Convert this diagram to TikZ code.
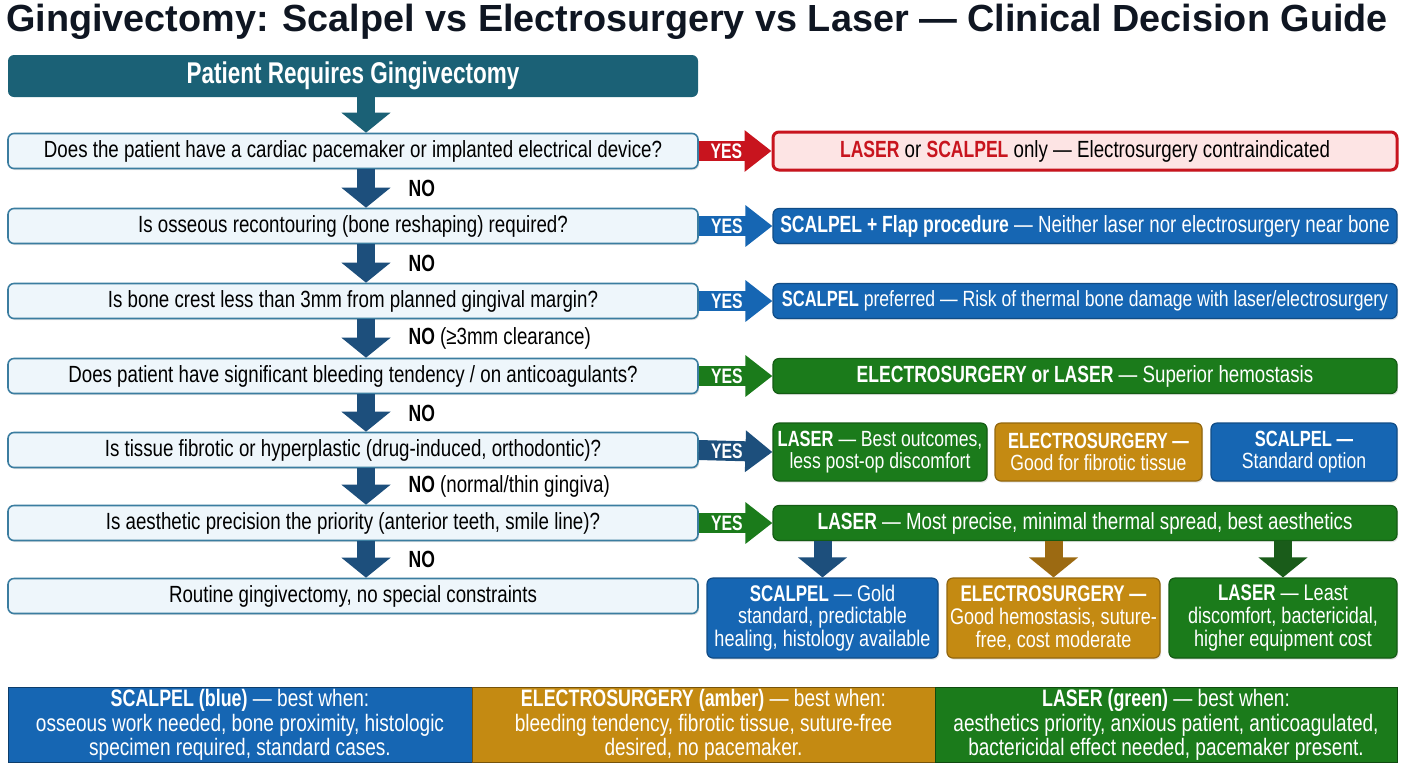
\documentclass[tikz,border=0pt]{standalone}
\usepackage{fontspec}
\setmainfont{Liberation Sans}[FakeStretch=0.8, BoldFeatures={FakeStretch=0.75}]
\newfontfamily\titlefont{Liberation Sans}
\usetikzlibrary{arrows.meta,shadows}

\definecolor{titlecol}{HTML}{0F1622}
\definecolor{startcol}{HTML}{1B6176}
\definecolor{qfill}{HTML}{EEF6FB}
\definecolor{qline}{HTML}{3B7DA0}
\definecolor{navy}{HTML}{1D4F7C}
\definecolor{bluec}{HTML}{1666B3}
\definecolor{amberc}{HTML}{C48A12}
\definecolor{greenc}{HTML}{1B7B1B}
\definecolor{redc}{HTML}{C8141E}
\definecolor{pinkc}{HTML}{FDE4E4}
\definecolor{darkamber}{HTML}{9C6A12}
\definecolor{darkgreen}{HTML}{1A5C1A}

\tikzset{
  txt/.style={font=\fontsize{11.7}{11.3}\selectfont},
  qbox/.style={txt, draw=qline, fill=qfill, line width=0.8pt, rounded corners=3pt,
    minimum width=345pt, minimum height=17.5pt, inner sep=1pt, text=black,
    drop shadow={shadow xshift=0.6pt, shadow yshift=-0.8pt, opacity=0.2}},
  rbox/.style={txt, fill=#1, draw=#1!75!black, line width=0.6pt, rounded corners=3pt,
    text=white, align=center, inner sep=1pt,
    drop shadow={shadow xshift=0.6pt, shadow yshift=-0.8pt, opacity=0.2}},
  smallbox/.style={rbox=#1, font=\fontsize{11}{11.3}\selectfont, minimum height=29pt},
  optbox/.style={rbox=#1, font=\fontsize{11.3}{11.3}\selectfont, minimum height=40pt},
  legbox/.style={fill=#1, draw=#1!60!black, line width=0.5pt, text=white,
    font=\fontsize{11.9}{10.6}\selectfont, align=center, inner sep=1pt, minimum height=37pt},
  down/.style={line width=9pt, draw=#1, -{Triangle[width=24pt,length=10pt]}},
  yes/.style={line width=10pt, draw=#1, -{Triangle[width=20pt,length=13.5pt]}},
  nolabel/.style={txt, anchor=west, xshift=13.5pt},
  yeslabel/.style={font=\fontsize{10.5}{11}\selectfont\bfseries, text=white, pos=0.38}
}

\begin{document}
\begin{tikzpicture}[x=0.5pt,y=-0.5pt]
\fill[white] (0,0) rectangle (1408,768);
\useasboundingbox (0,0) rectangle (1408,768);

\node[text=titlecol] (title) at (697,22)
  {\titlefont\bfseries\fontsize{18.9}{20}\selectfont Gingivectomy: Scalpel vs Electrosurgery vs Laser — Clinical Decision Guide};

\node[fill=startcol, rounded corners=3pt, minimum width=345pt, minimum height=21pt,
  text=white, font=\fontsize{15}{16}\selectfont\bfseries] (start) at (353,76) {Patient Requires Gingivectomy};

% questions down the left
\node[qbox] (q1) at (353,151) {Does the patient have a cardiac pacemaker or implanted electrical device?};
\node[qbox] (q2) at (353,226) {Is osseous recontouring (bone reshaping) required?};
\node[qbox] (q3) at (353,301) {Is bone crest less than 3mm from planned gingival margin?};
\node[qbox] (q4) at (353,376) {Does patient have significant bleeding tendency / on anticoagulants?};
\node[qbox] (q5) at (353,450) {Is tissue fibrotic or hyperplastic (drug-induced, orthodontic)?};
\node[qbox] (q6) at (353,523) {Is aesthetic precision the priority (anterior teeth, smile line)?};
\node[qbox] (q7) at (353,596) {Routine gingivectomy, no special constraints};

% answers on the right
\node[rbox=pinkc, draw=redc, line width=1.5pt, text=black, minimum width=312pt, minimum height=19pt] (r1) at (1085,151)
  {\textcolor{redc}{\textbf{LASER}} or \textcolor{redc}{\textbf{SCALPEL}} only — Electrosurgery contraindicated};
\node[rbox=bluec, minimum width=312pt, minimum height=17.5pt] (r2) at (1085,226)
  {\textbf{SCALPEL + Flap procedure} — Neither laser nor electrosurgery near bone};
\node[rbox=bluec, font=\fontsize{11}{11.3}\selectfont, minimum width=312pt, minimum height=17.5pt] (r3) at (1085,301)
  {\textbf{SCALPEL} preferred — Risk of thermal bone damage with laser/electrosurgery};
\node[rbox=greenc, minimum width=312pt, minimum height=17.5pt] (r4) at (1085,376)
  {\textbf{ELECTROSURGERY or LASER} — Superior hemostasis};
\node[smallbox=greenc, minimum width=107pt] (r5a) at (880,452)
  {\textbf{LASER} — Best outcomes,\\ less post-op discomfort};
\node[smallbox=amberc, minimum width=103.5pt] (r5b) at (1098.5,452)
  {\textbf{ELECTROSURGERY —}\\ Good for fibrotic tissue};
\node[smallbox=bluec, minimum width=93pt] (r5c) at (1304,452)
  {\textbf{SCALPEL —}\\ Standard option};
\node[rbox=greenc, minimum width=312pt, minimum height=17.5pt] (r6) at (1085,523)
  {\textbf{LASER} — Most precise, minimal thermal spread, best aesthetics};

\node[optbox=bluec, minimum width=115.5pt] (b1) at (822.5,618)
  {\textbf{SCALPEL} — Gold\\ standard, predictable\\ healing, histology available};
\node[optbox=amberc, minimum width=106.5pt] (b2) at (1053.5,618)
  {\textbf{ELECTROSURGERY —}\\ Good hemostasis, suture-\\ free, cost moderate};
\node[optbox=greenc, minimum width=114pt] (b3) at (1283,618)
  {\textbf{LASER} — Least\\ discomfort, bactericidal,\\ higher equipment cost};

% legend strip
\node[legbox=bluec, minimum width=232pt] (l1) at (240,725)
  {\textbf{SCALPEL (blue)} — best when:\\ osseous work needed, bone proximity, histologic\\ specimen required, standard cases.};
\node[legbox=amberc, minimum width=231.5pt] (l2) at (703.5,725)
  {\textbf{ELECTROSURGERY (amber)} — best when:\\ bleeding tendency, fibrotic tissue, suture-free\\ desired, no pacemaker.};
\node[legbox=greenc, minimum width=231pt] (l3) at (1166,725)
  {\textbf{LASER (green)} — best when:\\ aesthetics priority, anxious patient, anticoagulated,\\ bactericidal effect needed, pacemaker present.};

% NO arrows
\draw[down=startcol] ([xshift=6.5pt]start.south) -- ([xshift=6.5pt]q1.north);
\draw[down=navy] ([xshift=6.5pt]q1.south) -- ([xshift=6.5pt]q2.north)
  node[nolabel, pos=0.5] {\textbf{NO}};
\draw[down=navy] ([xshift=6.5pt]q2.south) -- ([xshift=6.5pt]q3.north)
  node[nolabel, pos=0.5] {\textbf{NO}};
\draw[down=navy] ([xshift=6.5pt]q3.south) -- ([xshift=6.5pt]q4.north)
  node[nolabel, pos=0.5] {\textbf{NO} (≥3mm clearance)};
\draw[down=navy] ([xshift=6.5pt]q4.south) -- ([xshift=6.5pt]q5.north)
  node[nolabel, pos=0.5] {\textbf{NO}};
\draw[down=navy] ([xshift=6.5pt]q5.south) -- ([xshift=6.5pt]q6.north)
  node[nolabel, pos=0.5] {\textbf{NO} (normal/thin gingiva)};
\draw[down=navy] ([xshift=6.5pt]q6.south) -- ([xshift=6.5pt]q7.north)
  node[nolabel, pos=0.5] {\textbf{NO}};

% YES arrows
\draw[yes=redc] (q1.east) -- (r1.west) node[yeslabel] {YES};
\draw[yes=bluec] (q2.east) -- (r2.west) node[yeslabel] {YES};
\draw[yes=bluec] (q3.east) -- (r3.west) node[yeslabel] {YES};
\draw[yes=greenc] (q4.east) -- (r4.west) node[yeslabel] {YES};
\draw[yes=navy] (q5.east) -- (r5a.west) node[yeslabel] {YES};
\draw[yes=greenc] (q6.east) -- (r6.west) node[yeslabel] {YES};

% from the aesthetics answer to the three options
\draw[down=navy] (b1.north |- r6.south) -- (b1.north);
\draw[down=darkamber] (b2.north |- r6.south) -- (b2.north);
\draw[down=darkgreen] (b3.north |- r6.south) -- (b3.north);
\end{tikzpicture}
\end{document}
